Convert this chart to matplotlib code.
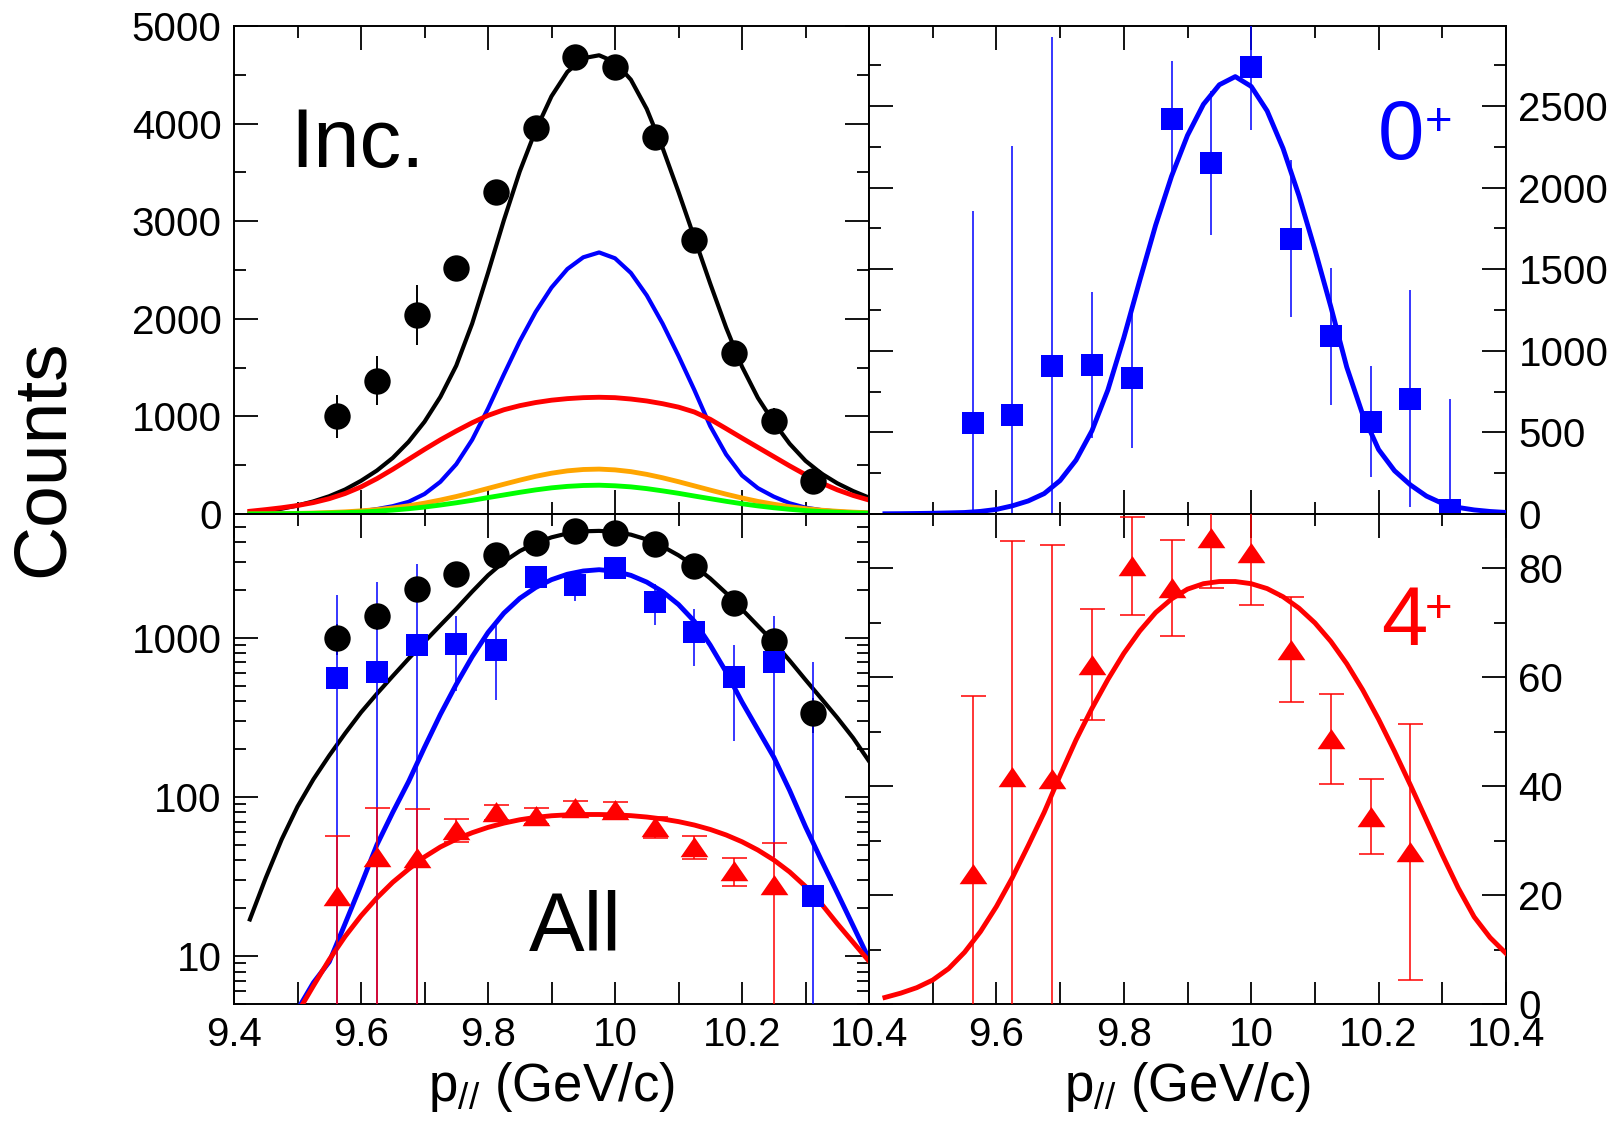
import matplotlib
matplotlib.use("Agg")
import matplotlib.pyplot as plt
from matplotlib.ticker import MultipleLocator, FixedLocator, LogLocator, NullFormatter, FuncFormatter

plt.rcParams['font.family'] = ['Liberation Sans', 'DejaVu Sans']
plt.rcParams['mathtext.fontset'] = 'custom'
plt.rcParams['mathtext.rm'] = 'Liberation Sans'
plt.rcParams['mathtext.it'] = 'Liberation Sans:italic'
plt.rcParams['lines.solid_joinstyle'] = 'round'

# =====================
# DATA
# =====================

# momentum bins (GeV/c)
p_bins = [9.5625, 9.625, 9.6875, 9.75, 9.8125, 9.875, 9.9375,
          10.0, 10.0625, 10.125, 10.1875, 10.25, 10.3125]

# inclusive counts
inc_counts = [1003, 1366, 2040, 2517, 3296, 3950, 4686, 4583, 3866, 2807, 1653, 951, 335]
inc_err = [220, 250, 305, 100, 100, 100, 100, 100, 100, 100, 100, 133, 83]

# 0+ counts
zero_counts = [560, 608, 905, 913, 836, 2423, 2149, 2739, 1687, 1089, 566, 707, 24]
zero_err = [1297, 1645, 2016, 450, 430, 355, 440, 384, 481, 420, 340, 665, 680]

# 4+ counts (no point in the last bin)
four_counts = [23.8, 41.7, 41.4, 62.3, 80.4, 76.4, 85.6, 82.9, 65.1, 48.7, 34.4, 28.0]
four_err = [32.7, 43.4, 42.9, 10.2, 9.0, 8.8, 9.2, 9.6, 9.6, 8.2, 6.9, 23.5]

# fitted curves
p_fit = [9.425, 9.45, 9.475, 9.5, 9.525, 9.55, 9.575, 9.6, 9.625, 9.65,
         9.675, 9.7, 9.725, 9.75, 9.775, 9.8, 9.825, 9.85, 9.875, 9.9,
         9.925, 9.95, 9.975, 10.0, 10.025, 10.05, 10.075, 10.1, 10.125, 10.15,
         10.175, 10.2, 10.225, 10.25, 10.275, 10.3, 10.325, 10.35, 10.375, 10.4]

fit_total = [17, 31, 54, 87, 129, 182, 251, 340, 445, 575,
             740, 945, 1200, 1520, 1950, 2470, 3010, 3510, 3930, 4280,
             4530, 4670, 4700, 4630, 4450, 4150, 3750, 3300, 2830, 2360,
             1910, 1510, 1190, 940, 720, 545, 415, 315, 235, 168]

fit_0 = [1.45, 2.1, 3.2, 4.6, 6.8, 9.2, 16, 28, 50, 80,
         125, 205, 330, 510, 760, 1080, 1430, 1770, 2070, 2320,
         2510, 2630, 2680, 2620, 2470, 2240, 1950, 1620, 1270, 900,
         610, 395, 265, 178, 110, 65, 40, 25, 15.5, 9.6]

fit_2 = [28, 45, 64, 87, 117, 157, 210, 278, 362, 458,
         560, 662, 760, 850, 935, 1010, 1068, 1110, 1142, 1166,
         1182, 1192, 1196, 1192, 1178, 1158, 1130, 1095, 1045, 970,
         875, 778, 683, 588, 493, 403, 318, 248, 190, 143]

fit_orange = [1.4, 2.4, 3.9, 6.2, 9.7, 14.8, 22, 32, 45, 62,
              84, 111, 143, 179, 219, 262, 305, 347, 386, 418,
              442, 456, 460, 452, 434, 406, 371, 331, 288, 245,
              203, 164, 129, 100, 75, 55, 39, 28, 19, 12.5]

fit_green = [0.9, 1.5, 2.5, 4.0, 6.2, 9.5, 14, 20, 29, 40,
             54, 71, 92, 115, 140, 168, 195, 222, 247, 268,
             283, 292, 295, 289, 278, 260, 237, 212, 184, 157,
             130, 105, 83, 64, 48, 35, 25, 18, 12, 8]

fit_4 = [1.2, 2.0, 3.0, 4.4, 6.5, 9.5, 13.3, 17.9, 23.2, 29.1,
         35.2, 42.0, 48.5, 54.3, 59.6, 64.4, 68.5, 71.9, 74.4, 76.2,
         77.2, 77.6, 77.6, 77.2, 76.3, 74.8, 72.7, 70.0, 66.6, 62.5,
         57.7, 52.3, 46.4, 40.2, 33.8, 27.4, 21.3, 16.0, 12.2, 9.3]

BLUE = '#0000ff'
RED = '#ff0000'
ORANGE = '#ffa500'
GREEN = '#00ff00'

TICK_FS = 29
TRI = [(-1, -0.7), (1, -0.7), (0, 0.75)]

# =====================
# FIGURE
# =====================

fig = plt.figure(figsize=(16.23, 11.21), dpi=100)

x0, xm, x1 = 234 / 1623, 869 / 1623, 1506 / 1623
y1, ym, y0 = 1 - 26 / 1121, 1 - 514 / 1121, 1 - 1004 / 1121

ax_a = fig.add_axes([x0, ym, xm - x0, y1 - ym])
ax_b = fig.add_axes([xm, ym, x1 - xm, y1 - ym])
ax_c = fig.add_axes([x0, y0, xm - x0, ym - y0])
ax_d = fig.add_axes([xm, y0, x1 - xm, ym - y0])


def style(ax):
    for s in ax.spines.values():
        s.set_linewidth(1.4)
    ax.set_xlim(9.4, 10.4)
    ax.tick_params(which='both', direction='in', top=True, bottom=True,
                   left=True, right=True, width=1.3, labelsize=TICK_FS)
    ax.tick_params(which='major', length=17)
    ax.tick_params(which='minor', length=8.6)
    ax.tick_params(axis='y', pad=9)
    ax.tick_params(axis='x', pad=9)


for ax in (ax_a, ax_b, ax_c, ax_d):
    style(ax)

# top panels: x ticks without labels
for ax in (ax_a, ax_b):
    ax.xaxis.set_major_locator(MultipleLocator(0.2))
    ax.xaxis.set_minor_locator(MultipleLocator(0.1))
    ax.tick_params(axis='x', labelbottom=False)


# bottom panels: equal ticks at the bottom, long/short at the top
def x_label(v, hide_first):
    k = round(v * 10)
    if k % 2 == 1:
        return ''
    if hide_first and k == 94:
        return ''
    return f'{v:g}'


for ax, hide in ((ax_c, False), (ax_d, True)):
    ax.xaxis.set_major_locator(MultipleLocator(0.1))
    ax.xaxis.set_major_formatter(FuncFormatter(lambda v, _, h=hide: x_label(v, h)))
    ax.tick_params(axis='x', which='major', top=False, length=16)
    sec = ax.secondary_xaxis('top')
    sec.xaxis.set_major_locator(MultipleLocator(0.2))
    sec.xaxis.set_minor_locator(MultipleLocator(0.1))
    sec.tick_params(which='both', direction='in', labeltop=False, width=1.3)
    sec.tick_params(which='major', length=17)
    sec.tick_params(which='minor', length=8.6)
    sec.spines['top'].set_linewidth(1.4)

# ---- top left: inclusive ----
ax_a.plot(p_fit, fit_total, color='black', lw=3, zorder=3)
ax_a.plot(p_fit, fit_0, color=BLUE, lw=3, zorder=3)
ax_a.plot(p_fit, fit_2, color=RED, lw=3.5, zorder=3)
ax_a.plot(p_fit, fit_orange, color=ORANGE, lw=3.5, zorder=3)
ax_a.plot(p_fit, fit_green, color=GREEN, lw=3.5, zorder=3)
ax_a.errorbar(p_bins, inc_counts, yerr=inc_err, fmt='o', color='black', ms=19, mew=0,
              capsize=9, elinewidth=1.4, capthick=1.4, zorder=4)
ax_a.set_ylim(0, 5000)
ax_a.yaxis.set_major_locator(MultipleLocator(1000))
ax_a.yaxis.set_minor_locator(MultipleLocator(500))
ax_a.text(0.088, 0.711, 'Inc.', transform=ax_a.transAxes, fontsize=60, va='baseline')

# ---- top right: 0+ ----
ax_b.plot(p_fit, fit_0, color=BLUE, lw=3.5, zorder=3)
ax_b.errorbar(p_bins, zero_counts, yerr=zero_err, fmt='s', color=BLUE, ms=15.8, mew=0,
              capsize=9, elinewidth=1.1, capthick=1.1, zorder=4)
ax_b.set_ylim(0, 2990)
ax_b.yaxis.set_major_locator(MultipleLocator(500))
ax_b.yaxis.set_minor_locator(MultipleLocator(250))
ax_b.tick_params(axis='y', labelleft=False, labelright=True)
ax_b.text(0.799, 0.727, '0', transform=ax_b.transAxes, fontsize=60, color=BLUE, va='baseline')
ax_b.text(0.873, 0.776, '+', transform=ax_b.transAxes, fontsize=34, color=BLUE, va='baseline')

# ---- bottom left: all, log scale ----
ax_c.set_yscale('log')
ax_c.plot(p_fit, fit_total, color='black', lw=3, zorder=3)
ax_c.plot(p_fit, fit_0, color=BLUE, lw=3.5, zorder=3)
ax_c.plot(p_fit, fit_4, color=RED, lw=3.5, zorder=3)
ax_c.errorbar(p_bins, inc_counts, yerr=inc_err, fmt='o', color='black', ms=19, mew=0,
              capsize=9, elinewidth=1.4, capthick=1.4, zorder=4)
ax_c.errorbar(p_bins, zero_counts, yerr=zero_err, fmt='s', color=BLUE, ms=15.8, mew=0,
              capsize=9, elinewidth=1.1, capthick=1.1, zorder=4)
ax_c.errorbar(p_bins[:12], four_counts, yerr=four_err, fmt='none', ecolor=RED,
              capsize=9, elinewidth=1.1, capthick=1.1, zorder=4)
ax_c.plot(p_bins[:12], four_counts, ls='none', marker=TRI, color=RED, ms=20, mew=0, zorder=5)
ax_c.set_ylim(5, 6000)
ax_c.yaxis.set_major_locator(FixedLocator([10, 100, 1000]))
ax_c.yaxis.set_major_formatter(FuncFormatter(lambda v, _: f'{v:g}'))
ax_c.yaxis.set_minor_locator(LogLocator(base=10, subs=range(2, 10)))
ax_c.yaxis.set_minor_formatter(NullFormatter())
ax_c.text(0.465, 0.108, 'All', transform=ax_c.transAxes, fontsize=60, va='baseline')

# ---- bottom right: 4+ ----
ax_d.plot(p_fit, fit_4, color=RED, lw=3.5, zorder=3)
ax_d.errorbar(p_bins[:12], four_counts, yerr=four_err, fmt='none', ecolor=RED,
              capsize=9, elinewidth=1.1, capthick=1.1, zorder=4)
ax_d.plot(p_bins[:12], four_counts, ls='none', marker=TRI, color=RED, ms=20, mew=0, zorder=5)
ax_d.set_ylim(0, 90)
ax_d.yaxis.set_major_locator(MultipleLocator(20))
ax_d.yaxis.set_minor_locator(MultipleLocator(10))
ax_d.tick_params(axis='y', labelleft=False, labelright=True)
ax_d.text(0.804, 0.733, '4', transform=ax_d.transAxes, fontsize=60, color=RED, va='baseline')
ax_d.text(0.873, 0.779, '+', transform=ax_d.transAxes, fontsize=34, color=RED, va='baseline')

# axis titles
for ax in (ax_c, ax_d):
    ax.text(0.5, -0.198, r'p$_{//}$ (GeV/c)', transform=ax.transAxes,
            fontsize=38, ha='center', va='baseline')

fig.text(43 / 1623, 1 - 458 / 1121, 'Counts', rotation=90, fontsize=54,
         ha='center', va='center')

fig.savefig('out.png', dpi=100)
